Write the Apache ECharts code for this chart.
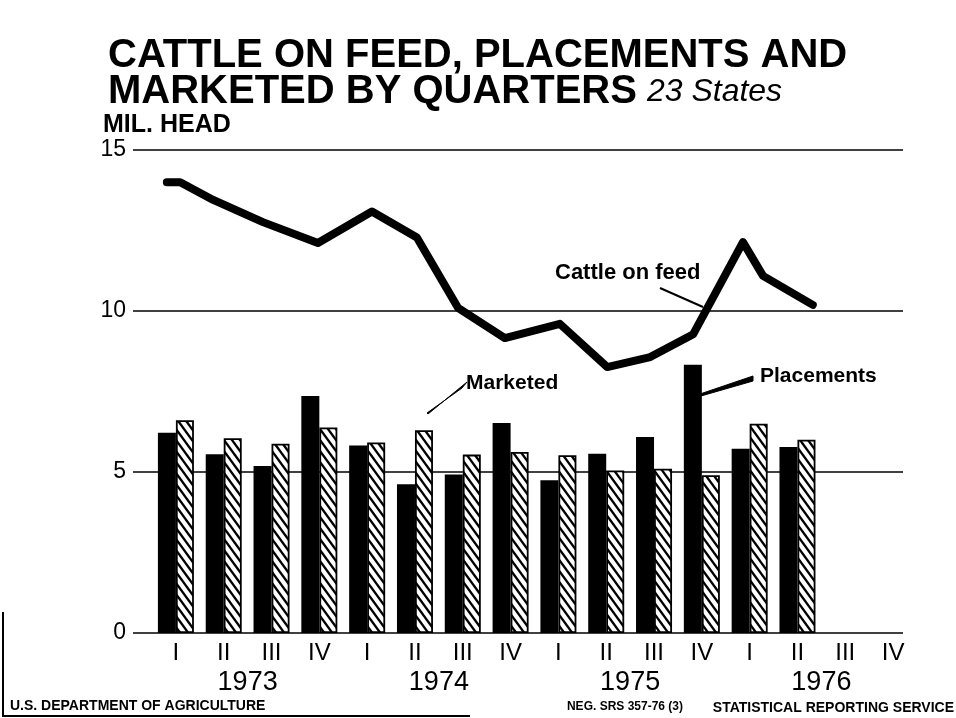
<!DOCTYPE html>
<html>
<head>
<meta charset="utf-8">
<title>Cattle on feed, placements and marketed by quarters</title>
<script src="https://cdn.jsdelivr.net/npm/echarts/dist/echarts.min.js"></script>
<style>
  html, body { margin: 0; padding: 0; background: #fff; }
  #main { width: 956px; height: 718px; }
</style>
</head>
<body>
<div id="main"></div>
<script>
// quarters 1973 I .. 1976 IV
var quarters = ["I", "II", "III", "IV", "I", "II", "III", "IV", "I", "II", "III", "IV", "I", "II", "III", "IV"];
var years = ["1973", "1974", "1975", "1976"];

// mil. head (no data for 1976 III and IV)
var placements = [6.22, 5.55, 5.19, 7.36, 5.82, 4.62, 4.92, 6.52, 4.74, 5.57, 6.09, 8.33, 5.72, 5.78, null, null];
var marketed = [6.61, 6.05, 5.88, 6.38, 5.92, 6.30, 5.54, 5.62, 5.52, 5.05, 5.10, 4.90, 6.50, 6.00, null, null];

// cattle on feed: position along the quarter axis (0 = 1973 I) and value
var feedPos = [-0.19, 0.09, 0.78, 1.82, 2.97, 4.10, 5.04, 5.90, 6.88, 8.03, 9.02, 9.92, 10.82, 11.86, 12.28, 13.32];
var feedVals = [14.0, 14.0, 13.45, 12.76, 12.11, 13.09, 12.28, 10.1, 9.16, 9.6, 8.26, 8.57, 9.28, 12.14, 11.09, 10.19];

var yTicks = { min: 0, max: 15, interval: 5 };

var FONT = "'Liberation Sans', Arial, sans-serif";

// diagonal hatch for the marketed bars
function hatch() {
  var w = 8, h = 11;
  var c = document.createElement("canvas");
  c.width = w;
  c.height = h;
  var ctx = c.getContext("2d");
  ctx.fillStyle = "#fff";
  ctx.fillRect(0, 0, w, h);
  ctx.strokeStyle = "#000";
  ctx.lineWidth = 2.3;
  [-w, 0, w].forEach(function (o) {
    ctx.beginPath();
    ctx.moveTo(o - w, -h);
    ctx.lineTo(o + 2 * w, 2 * h);
    ctx.stroke();
  });
  return c;
}

var feedData = feedPos.map(function (p, i) {
  return [p, feedVals[i]];
});

var myChart = echarts.init(document.getElementById("main"));

myChart.setOption({
  animation: false,
  backgroundColor: "#ffffff",
  title: {
    left: 103,
    top: 33,
    text: "{b|CATTLE ON FEED, PLACEMENTS AND}\n{b|MARKETED BY QUARTERS}  {i|23 States}",
    textStyle: {
      rich: {
        b: { fontFamily: FONT, fontWeight: "bold", fontSize: 40, lineHeight: 36, color: "#000" },
        i: { fontFamily: FONT, fontStyle: "italic", fontWeight: "normal", fontSize: 32, lineHeight: 36, color: "#000" },
      },
    },
  },
  grid: [
    { left: 133, right: 53, top: 150, bottom: 85 },
    { left: 152, right: 39, top: 150, bottom: 85 },
  ],
  xAxis: [
    { gridIndex: 0, type: "category", data: [""], show: false },
    {
      gridIndex: 1,
      type: "category",
      data: quarters,
      axisLine: { show: false },
      axisTick: { show: false },
      axisLabel: { color: "#000", fontFamily: FONT, fontSize: 24, margin: 8 },
    },
    {
      gridIndex: 1,
      type: "category",
      data: years,
      position: "bottom",
      offset: 28,
      axisLine: { show: false },
      axisTick: { show: false },
      axisLabel: { color: "#000", fontFamily: FONT, fontSize: 27, margin: 8 },
    },
    { gridIndex: 1, type: "value", min: -0.5, max: 15.5, show: false },
  ],
  yAxis: [
    {
      gridIndex: 0,
      type: "value",
      min: yTicks.min,
      max: yTicks.max,
      interval: yTicks.interval,
      axisLine: { show: false },
      axisTick: { show: false },
      axisLabel: { color: "#000", fontFamily: FONT, fontSize: 23, margin: 7 },
      splitLine: { lineStyle: { color: "#000", width: 1.5 } },
    },
    { gridIndex: 1, type: "value", min: yTicks.min, max: yTicks.max, show: false },
  ],
  series: [
    {
      name: "Placements",
      type: "bar",
      xAxisIndex: 1,
      yAxisIndex: 1,
      barWidth: 18,
      barGap: "0%",
      itemStyle: { color: "#000" },
      data: placements,
    },
    {
      name: "Marketed",
      type: "bar",
      xAxisIndex: 1,
      yAxisIndex: 1,
      barWidth: 18,
      barGap: "0%",
      itemStyle: {
        color: { image: hatch(), repeat: "repeat" },
        borderColor: "#000",
        borderWidth: 1.8,
      },
      data: marketed,
    },
    {
      name: "Cattle on feed",
      type: "line",
      xAxisIndex: 3,
      yAxisIndex: 1,
      symbol: "none",
      lineStyle: { color: "#000", width: 8, cap: "round", join: "round" },
      data: feedData,
      z: 5,
    },
  ],
  graphic: [
    {
      type: "text",
      left: 103,
      top: 113,
      style: { text: "MIL. HEAD", fontFamily: FONT, fontWeight: "bold", fontSize: 25, fill: "#000" },
    },
    {
      type: "text",
      left: 555,
      top: 262,
      style: { text: "Cattle on feed", fontFamily: FONT, fontWeight: "bold", fontSize: 22, fill: "#000" },
    },
    {
      type: "line",
      shape: { x1: 660, y1: 288, x2: 703, y2: 307 },
      style: { stroke: "#000", lineWidth: 2 },
    },
    {
      type: "text",
      left: 466,
      top: 373,
      style: { text: "Marketed", fontFamily: FONT, fontWeight: "bold", fontSize: 21, fill: "#000" },
    },
    {
      type: "polygon",
      shape: { points: [[467, 382], [462, 388], [427, 413], [428, 414]] },
      style: { fill: "#000", stroke: "#000", lineWidth: 1 },
    },
    {
      type: "text",
      left: 760,
      top: 366,
      style: { text: "Placements", fontFamily: FONT, fontWeight: "bold", fontSize: 21, fill: "#000" },
    },
    {
      type: "polygon",
      shape: { points: [[753, 376], [753, 381], [701, 396], [700, 394]] },
      style: { fill: "#000", stroke: "#000", lineWidth: 1 },
    },
    {
      type: "text",
      left: 10,
      top: 699,
      style: { text: "U.S. DEPARTMENT OF AGRICULTURE", fontFamily: FONT, fontWeight: "bold", fontSize: 14, fill: "#000" },
    },
    {
      type: "text",
      right: 273,
      top: 701,
      style: { text: "NEG. SRS 357-76 (3)", fontFamily: FONT, fontWeight: "bold", fontSize: 12, fill: "#000" },
    },
    {
      type: "text",
      right: 2,
      top: 701,
      style: { text: "STATISTICAL REPORTING SERVICE", fontFamily: FONT, fontWeight: "bold", fontSize: 14, fill: "#000" },
    },
    {
      type: "polyline",
      shape: { points: [[3, 612], [3, 716], [470, 716]] },
      style: { stroke: "#000", lineWidth: 2, fill: null },
    },
  ],
});
</script>
</body>
</html>
